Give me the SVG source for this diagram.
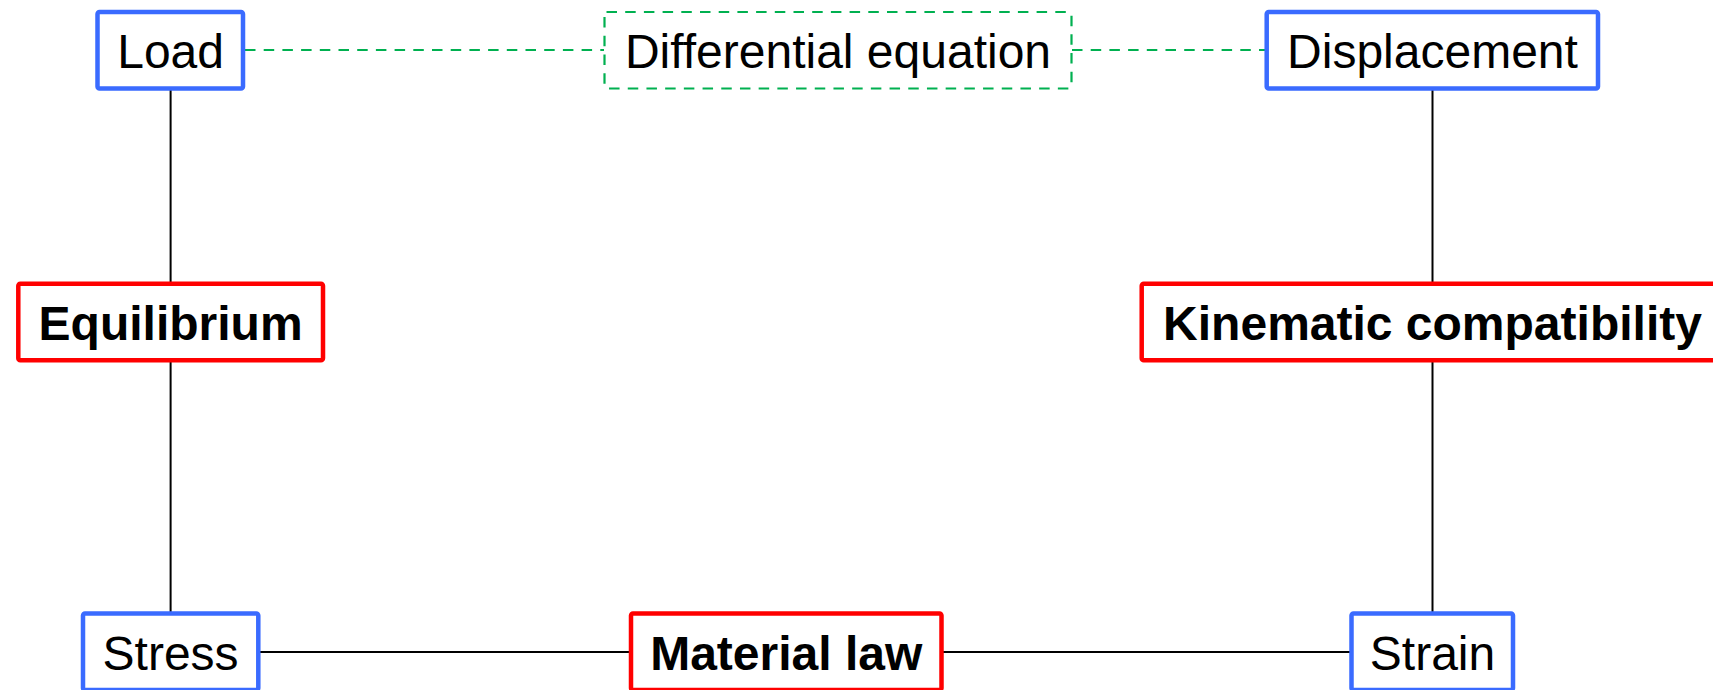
<svg xmlns="http://www.w3.org/2000/svg" width="1713" height="690" viewBox="0 0 1713 690">
<style>
.blue{fill:#fff;stroke:#3a6bff;stroke-width:4.5}
.red{fill:#fff;stroke:#ff0000;stroke-width:4.5}
.dash{fill:#fff;stroke:#00b050;stroke-width:2.2;stroke-dasharray:10.5,8.2}
.t{font-family:"Liberation Sans",Arial,sans-serif;font-size:48px;fill:#000;text-anchor:middle}
.b{font-weight:bold}
.ln{stroke:#000;stroke-width:2;fill:none}
.gl{stroke:#00b050;stroke-width:2.2;stroke-dasharray:10.5,8.2;fill:none}
</style>
<rect width="1713" height="690" fill="#fff"/>
<g id="connectors">
<line class="ln" x1="170.6" y1="88" x2="170.6" y2="284"/>
<line class="ln" x1="170.6" y1="360" x2="170.6" y2="614"/>
<line class="ln" x1="1432.5" y1="88" x2="1432.5" y2="284"/>
<line class="ln" x1="1432.5" y1="360" x2="1432.5" y2="614"/>
<line class="ln" x1="258" y1="652" x2="631" y2="652"/>
<line class="ln" x1="941.5" y1="652" x2="1351.5" y2="652"/>
<line class="gl" x1="245" y1="50" x2="604" y2="50"/>
<line class="gl" x1="1072" y1="50" x2="1265" y2="50"/>
</g>
<g id="load">
<rect class="blue" x="97.5" y="12" width="145.5" height="76.5" rx="2"/>
<text class="t" x="170.6" y="68">Load</text>
</g>
<g id="differential">
<rect class="dash" x="604.5" y="12" width="467" height="76.5" rx="2"/>
<text class="t" x="838" y="68">Differential equation</text>
</g>
<g id="displacement">
<rect class="blue" x="1266.7" y="12" width="331.3" height="76.5" rx="2"/>
<text class="t" x="1432.5" y="68">Displacement</text>
</g>
<g id="equilibrium">
<rect class="red" x="18.3" y="283.7" width="304.7" height="76.5" rx="2"/>
<text class="t b" x="170.6" y="340">Equilibrium</text>
</g>
<g id="kinematic">
<rect class="red" x="1141.7" y="283.7" width="581.6" height="76.5" rx="2"/>
<text class="t b" x="1432.5" y="340">Kinematic compatibility</text>
</g>
<g id="stress">
<rect class="blue" x="83" y="613.5" width="175.3" height="76.5" rx="2"/>
<text class="t" x="170.6" y="670">Stress</text>
</g>
<g id="material">
<rect class="red" x="631" y="613.5" width="310.5" height="76.5" rx="2"/>
<text class="t b" x="786.2" y="670">Material law</text>
</g>
<g id="strain">
<rect class="blue" x="1351.5" y="613.5" width="161.5" height="76.5" rx="2"/>
<text class="t" x="1432.5" y="670">Strain</text>
</g>
</svg>
